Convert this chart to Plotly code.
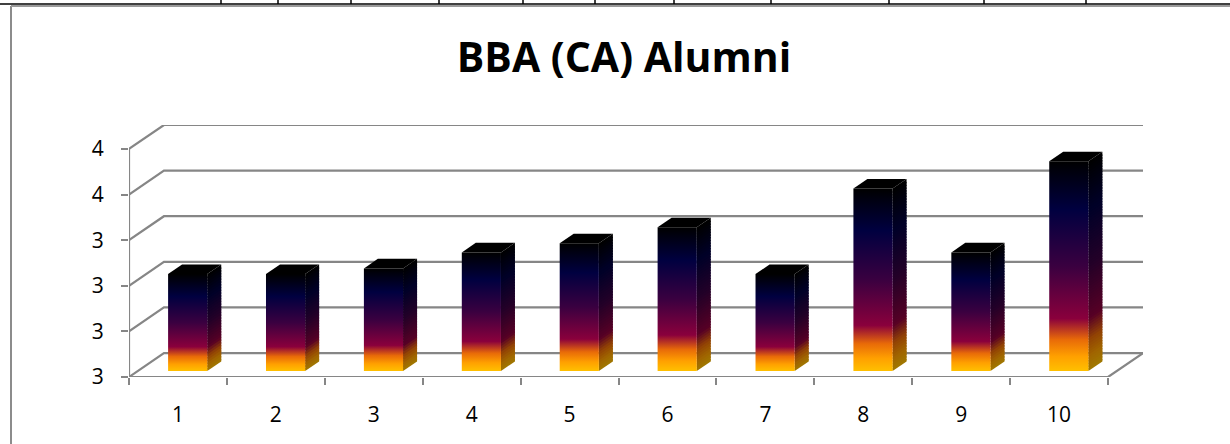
import plotly.graph_objects as go

title_text = "BBA (CA) Alumni"
categories = ["1", "2", "3", "4", "5", "6", "7", "8", "9", "10"]
values = [3.225, 3.225, 3.25, 3.32, 3.36, 3.43, 3.225, 3.60, 3.32, 3.72]
y_ticks = [2.8, 3.0, 3.2, 3.4, 3.6, 3.8]
y_tick_labels = ["3", "3", "3", "3", "4", "4"]
top_rule_ticks = [221, 278, 351, 439, 523, 595, 674, 771, 889, 984, 1086]

GRID = "#868686"
DX, DY = 0.357, 0.105
BASE = y_ticks[0]
front_stops = [(0, "#FFC000"), (0.07, "#FFA000"), (0.15, "#E86A08"), (0.25, "#8A003C"),
               (0.5, "#3A0040"), (0.77, "#000040"), (1, "#000000")]
SIDE_SHADE = 0.63


def proj(x, v, d):
    return x + d * DX, v + d * DY


def rgb(h):
    return [int(h[i:i + 2], 16) for i in (1, 3, 5)]


def shade_at(f):
    for (a, ca), (b, cb) in zip(front_stops, front_stops[1:]):
        if f <= b:
            t = (f - a) / (b - a)
            c = [(p + (q - p) * t) * SIDE_SHADE for p, q in zip(rgb(ca), rgb(cb))]
            return "rgb(%d,%d,%d)" % tuple(c)
    return "rgb(0,0,0)"


fig = go.Figure()


def line(pts, width=2.2):
    xs, ys = zip(*[proj(*p) for p in pts])
    fig.add_trace(go.Scatter(x=xs, y=ys, mode="lines", line=dict(color=GRID, width=width),
                             hoverinfo="skip", showlegend=False, cliponaxis=False))


n = len(categories)
for t in y_ticks:
    line([(0, t, 0), (0, t, 1), (n, t, 1)])
line([(0, y_ticks[0], 0), (0, y_ticks[-1], 0)])
line([(0, BASE, 0), (n, BASE, 0), (n, BASE, 1)])


def poly(pts, **kw):
    xs, ys = zip(*[proj(*p) for p in pts])
    fig.add_trace(go.Scatter(
        x=list(xs) + [xs[0]], y=list(ys) + [ys[0]], mode="lines", fill="toself",
        line=dict(width=0), hoverinfo="skip", showlegend=False, **kw))


D0, D1 = 0.25, 0.65
W = 0.2
BAND = 0.012  # side-face shading band height, in value units
for i, v in enumerate(values):
    c = i + 0.51
    l, r = c - W, c + W
    by = proj(0, BASE, D0)[1]
    ty = proj(0, v, D0)[1]
    # side face: sheared bands follow the slope of the face, top band first
    levels = max(1, round((v - BASE) / BAND))
    for k in range(levels, 0, -1):
        f = k / levels
        lo = BASE + (v - BASE) * max(0, (k - 1.6) / levels)
        hi = BASE + (v - BASE) * f
        poly([(r, lo, D0), (r, lo, D1), (r, hi, D1), (r, hi, D0)], fillcolor=shade_at(f - 0.5 / levels))
    # top face
    poly([(l, v, D0), (l, v, D1), (r, v, D1), (r, v, D0)], fillcolor="#000000")
    # front face
    poly([(l, BASE, D0), (r, BASE, D0), (r, v, D0), (l, v, D0)],
         fillgradient=dict(type="vertical", colorscale=front_stops, start=by, stop=ty))

P = dict(xref="paper", yref="paper", layer="above")
L, R, T, B = 129, 1143, 125, 377


def px(x):
    return (x - L) / (R - L)


def py(y):
    return (B - y) / (B - T)


shapes = [
    dict(type="line", x0=px(11), x1=px(11), y0=py(6), y1=py(444), line=dict(color="#8C8C8C", width=2), **P),
    dict(type="line", x0=px(11), x1=px(1230), y0=py(6), y1=py(6), line=dict(color="#9A9A9A", width=2), **P),
    dict(type="line", x0=px(0), x1=px(1230), y0=py(4), y1=py(4), line=dict(color="#000000", width=1.5), **P),
]
for t in top_rule_ticks:
    shapes.append(dict(type="line", x0=px(t), x1=px(t), y0=py(0), y1=py(4), line=dict(color="#000000", width=1.5), **P))

tick_font = dict(family="Open Sans", size=21, color="#000000")
fig.update_layout(
    width=1230, height=444, autosize=False,
    margin=dict(l=L, r=1230 - R, t=T, b=444 - B),
    paper_bgcolor="white", plot_bgcolor="white",
    showlegend=False, shapes=shapes,
    font=dict(family="Open Sans", color="#000000", size=21),
    title=dict(text=f"<b>{title_text}</b>", x=624 / 1230, xanchor="center", y=1 - 58 / 444, yanchor="middle",
               font=dict(family="Open Sans", size=41, color="#000000")),
    xaxis=dict(range=[0, n + DX], tickmode="array", tickvals=[i + 0.5 for i in range(n)],
               ticktext=categories, ticks="outside", ticklen=19, tickcolor="rgba(0,0,0,0)", tickfont=tick_font,
               showgrid=False, zeroline=False, showline=False,
               minor=dict(tickmode="array", tickvals=list(range(n + 1)), ticks="outside", ticklen=7,
                          tickcolor=GRID, tickwidth=2, showgrid=False)),
    yaxis=dict(range=[BASE, y_ticks[-1] + DY], tickmode="array", tickvals=y_ticks, ticktext=y_tick_labels,
               ticks="outside", ticklen=7, tickcolor=GRID, tickwidth=2, tickfont=tick_font,
               ticklabelstandoff=13,
               showgrid=False, zeroline=False, showline=False),
)
fig.write_html("out.html", config=dict(displayModeBar=False),
               post_script="document.body.style.margin='0';document.body.style.overflow='hidden';")
